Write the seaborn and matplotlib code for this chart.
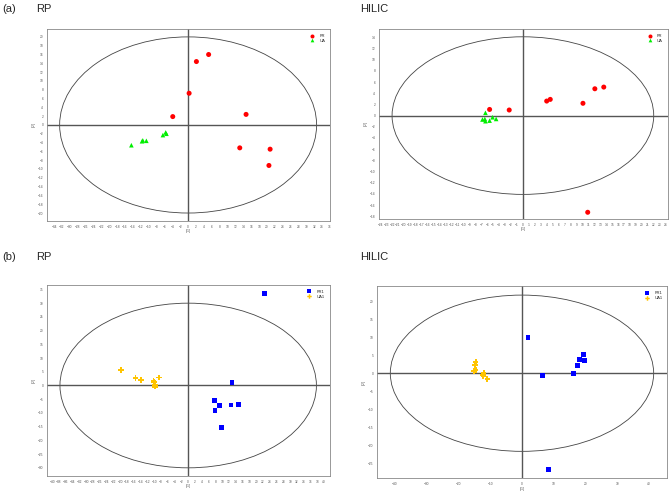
import seaborn as sns
import matplotlib.pyplot as plt
import matplotlib.ticker as mticker
from matplotlib.patches import Ellipse
import pandas as pd
import numpy as np

# score values
rp_a_fr_t1 = [5.2, 2.1, 0.25, -3.9, 14.7, 13.1, 20.8, 20.5]
rp_a_fr_t2 = [16.0, 14.4, 7.2, 1.9, 2.4, -5.2, -5.5, -9.2]
rp_a_ua_t1 = [-14.4, -11.7, -11.5, -10.6, -6.4, -5.7, -5.5]
rp_a_ua_t2 = [-4.6, -3.7, -3.5, -3.6, -2.3, -1.7, -2.0]

hil_a_fr_t1 = [13.6, 12.1, 10.1, 4.6, 4.0, -2.3, -5.6, 10.9]
hil_a_fr_t2 = [5.1, 4.8, 2.2, 2.9, 2.6, 1.0, 1.1, -17.3]
hil_a_ua_t1 = [-6.3, -6.8, -6.3, -5.6, -5.1, -4.5, -6.4]
hil_a_ua_t2 = [0.5, -0.7, -1.0, -0.9, -0.3, -0.6, -0.6]

rp_b_fr_t1 = [22.5, 12.9, 7.8, 7.9, 9.2, 12.6, 14.8, 9.7]
rp_b_fr_t2 = [33.4, 1.2, -5.6, -9.0, -7.3, -7.1, -6.8, -15.2]
rp_b_ua_t1 = [-19.8, -15.5, -13.8, -10.2, -10.0, -8.6, -9.8, -9.7]
rp_b_ua_t2 = [5.6, 2.7, 2.1, 1.8, 1.3, 2.9, 0.2, -0.4]

hil_b_fr_t1 = [1.9, 6.5, 8.3, 16.3, 17.5, 18.2, 19.3, 19.7]
hil_b_fr_t2 = [9.8, -0.6, -26.6, 0.0, 2.1, 3.8, 5.2, 3.6]
hil_b_ua_t1 = [-14.6, -14.8, -14.6, -15.2, -12.1, -12.3, -12.2, -10.9]
hil_b_ua_t2 = [3.2, 2.2, 0.9, 0.6, 0.0, -0.6, -0.9, -1.6]

# Hotelling ellipse radii (t1, t2)
ell_rp_a = (32.6, 20.0)
ell_hil_a = (22.0, 14.1)
ell_rp_b = (37.7, 30.0)
ell_hil_b = (41.5, 21.65)

sns.set_style('white')
plt.rcParams['font.family'] = ['Liberation Sans', 'DejaVu Sans']
fig = plt.figure(figsize=(6.69, 4.91), dpi=100)


def make_df(t1a, t2a, t1b, t2b, la, lb):
    return pd.DataFrame({
        't1': t1a + t1b,
        't2': t2a + t2b,
        'group': [la] * len(t1a) + [lb] * len(t1b),
    })


def panel(rect, df, ell, xlim, ylim, xstep, ystep, colors, marks, sizes, xminor=None, yminor=None):
    ax = fig.add_axes(rect)
    ax.add_patch(Ellipse((0, 0), 2 * ell[0], 2 * ell[1], fill=False,
                         edgecolor='#444444', lw=0.6, zorder=1))
    ax.axhline(0, color='#555555', lw=1.0, zorder=1)
    ax.axvline(0, color='#555555', lw=1.0, zorder=1)
    sns.scatterplot(data=df, x='t1', y='t2', hue='group', style='group',
                    palette=colors, markers=marks, size='group', sizes=sizes,
                    linewidth=0, ax=ax, zorder=3)
    ax.set_xlim(xlim)
    ax.set_ylim(ylim)
    ax.xaxis.set_major_locator(mticker.MultipleLocator(xstep))
    ax.yaxis.set_major_locator(mticker.MultipleLocator(ystep))
    if xminor:
        ax.xaxis.set_minor_locator(mticker.MultipleLocator(xminor))
    if yminor:
        ax.yaxis.set_minor_locator(mticker.MultipleLocator(yminor))
    ax.tick_params(labelsize=2.3, length=1.5, width=0.4, pad=1.2, colors='#555555')
    ax.tick_params(which='minor', length=1, width=0.4, colors='#555555')
    ax.set_xlabel('t[1]', fontsize=2.5, labelpad=0.5, color='#555555')
    ax.set_ylabel('t[2]', fontsize=2.5, labelpad=1, color='#555555')
    for s in ax.spines.values():
        s.set_color('#888888')
        s.set_linewidth(0.6)
    ax.legend(loc='upper right', frameon=False, fontsize=3, markerscale=0.8,
              handletextpad=0.8, labelspacing=0.2, borderaxespad=0.8)
    return ax


df1 = make_df(rp_a_fr_t1, rp_a_fr_t2, rp_a_ua_t1, rp_a_ua_t2, 'FR', 'UA')
df2 = make_df(hil_a_fr_t1, hil_a_fr_t2, hil_a_ua_t1, hil_a_ua_t2, 'FR', 'UA')
df3 = make_df(rp_b_fr_t1, rp_b_fr_t2, rp_b_ua_t1, rp_b_ua_t2, 'FR1', 'UA1')
df4 = make_df(hil_b_fr_t1, hil_b_fr_t2, hil_b_ua_t1, hil_b_ua_t2, 'FR1', 'UA1')

ra = {'FR': '#ff0000', 'UA': '#00ee00'}
ma = {'FR': 'o', 'UA': '^'}
sa = {'FR': 13, 'UA': 11}
rb = {'FR1': '#0000ff', 'UA1': '#ffc400'}
mb = {'FR1': 's', 'UA1': 'P'}
sb = {'FR1': 12, 'UA1': 16}

panel([0.0703, 0.550, 0.423, 0.391], df1, ell_rp_a, (-35.8, 36), (-21.8, 21.8), 2, 2, ra, ma, sa)
panel([0.5665, 0.554, 0.432, 0.387], df2, ell_hil_a, (-24.2, 24.4), (-18.5, 15.5), 1, 2, ra, ma, sa)
panel([0.0703, 0.031, 0.423, 0.389], df3, ell_rp_b, (-41.5, 41.7), (-32.9, 36.7), 2, 5, rb, mb, sb)
panel([0.5635, 0.026, 0.434, 0.391], df4, ell_hil_b, (-45.7, 45.8), (-29.1, 24.1), 10, 5, rb, mb, sb,
      xminor=2, yminor=1)

fig.text(2 / 669, 1 - 4 / 491, '(a)', fontsize=8, va='top')
fig.text(36 / 669, 1 - 4 / 491, 'RP', fontsize=8, va='top')
fig.text(360 / 669, 1 - 4 / 491, 'HILIC', fontsize=8, va='top')
fig.text(2 / 669, 1 - 252 / 491, '(b)', fontsize=8, va='top')
fig.text(36 / 669, 1 - 252 / 491, 'RP', fontsize=8, va='top')
fig.text(360 / 669, 1 - 252 / 491, 'HILIC', fontsize=8, va='top')

fig.savefig('out.png', dpi=100)
